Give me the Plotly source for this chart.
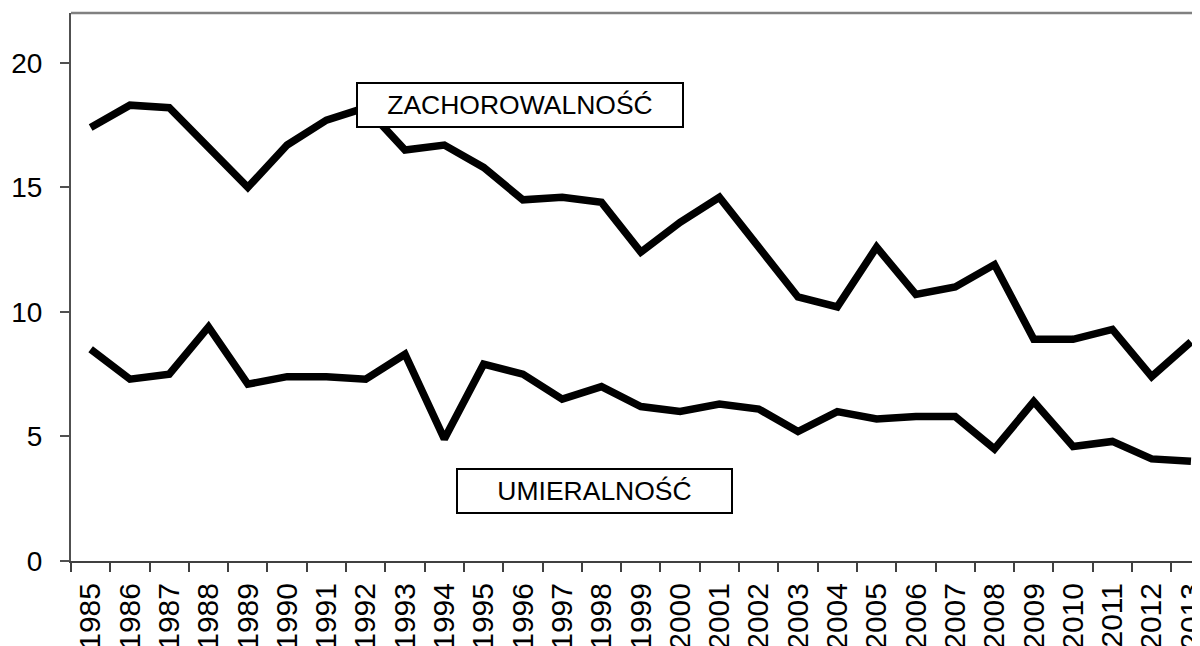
import plotly.graph_objects as go

years = [str(y) for y in range(1985, 2014)]
zachorowalnosc = [17.4, 18.3, 18.2, 16.6, 15.0, 16.7, 17.7, 18.2, 16.5, 16.7,
                  15.8, 14.5, 14.6, 14.4, 12.4, 13.6, 14.6, 12.6, 10.6, 10.2,
                  12.6, 10.7, 11.0, 11.9, 8.9, 8.9, 9.3, 7.4, 8.8]
umieralnosc = [8.5, 7.3, 7.5, 9.4, 7.1, 7.4, 7.4, 7.3, 8.3, 4.9,
               7.9, 7.5, 6.5, 7.0, 6.2, 6.0, 6.3, 6.1, 5.2, 6.0,
               5.7, 5.8, 5.8, 4.5, 6.4, 4.6, 4.8, 4.1, 4.0]
y_ticks = [0, 5, 10, 15, 20]

FONT = "Liberation Sans, Arial, sans-serif"

fig = go.Figure()
fig.add_trace(go.Scatter(x=years, y=zachorowalnosc, mode="lines",
                         line=dict(color="black", width=7.5), name="ZACHOROWALNOŚĆ",
                         showlegend=False))
fig.add_trace(go.Scatter(x=years, y=umieralnosc, mode="lines",
                         line=dict(color="black", width=7.5), name="UMIERALNOŚĆ",
                         showlegend=False))

fig.update_layout(
    width=1192, height=638,
    margin=dict(l=63, r=0, t=5, b=85, autoexpand=False),
    paper_bgcolor="white", plot_bgcolor="white",
    font=dict(family=FONT, color="black", size=28),
    xaxis=dict(
        type="category", range=[-0.5, 28.23], automargin=False,
        tickson="boundaries", ticks="outside", ticklen=9, tickwidth=1.5,
        tickcolor="#404040", showline=True, linecolor="#404040", linewidth=2,
        showgrid=False, zeroline=False, tickangle=-90,
        tickfont=dict(family=FONT, size=30, color="black"),
        ticklabelstandoff=8,
    ),
    yaxis=dict(
        range=[0, 22], tickvals=y_ticks, ticks="outside", ticklen=9,
        automargin=False,
        tickwidth=1.5, tickcolor="#505050", showline=True, linecolor="#505050",
        linewidth=2, showgrid=False, zeroline=False,
        tickfont=dict(family=FONT, size=28, color="black"),
        ticklabelstandoff=12,
    ),
    shapes=[dict(type="line", xref="paper", yref="paper", x0=0, x1=1, y0=1, y1=1,
                 line=dict(color="#808080", width=2.5))],
    annotations=[
        dict(text="ZACHOROWALNOŚĆ", xref="paper", yref="paper", x=0.3977, y=0.8327,
             showarrow=False, font=dict(family=FONT, size=26.5, color="black"),
             bgcolor="white", bordercolor="black", borderwidth=2, borderpad=1,
             width=322, height=40, xanchor="center", yanchor="middle"),
        dict(text="UMIERALNOŚĆ", xref="paper", yref="paper", x=0.4634, y=0.1286,
             showarrow=False, font=dict(family=FONT, size=26.5, color="black"),
             bgcolor="white", bordercolor="black", borderwidth=2, borderpad=1,
             width=271, height=40, xanchor="center", yanchor="middle"),
    ],
)

fig.write_html("out.html")
